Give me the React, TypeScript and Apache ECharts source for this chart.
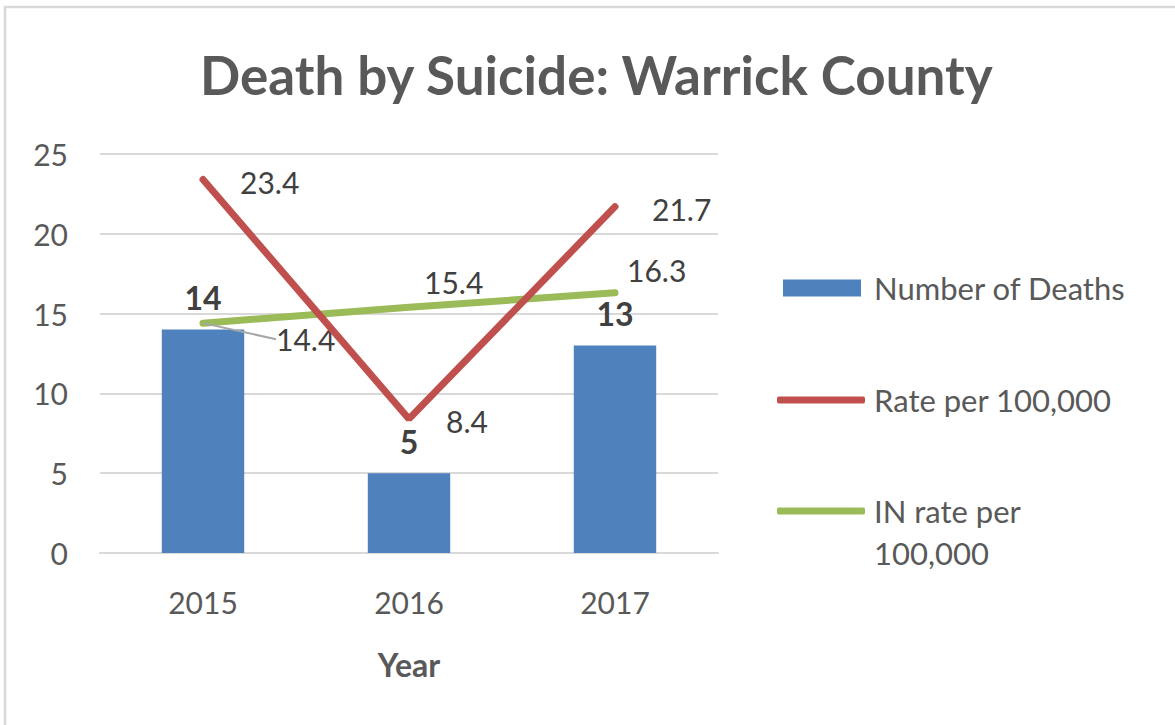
import React, { useEffect, useRef } from "react";
import * as echarts from "echarts";

const years = ["2015", "2016", "2017"];
const deaths = [14, 5, 13];
const rate = [23.4, 8.4, 21.7];
const inRate = [14.4, 15.4, 16.3];
const yTicks = [0, 5, 10, 15, 20, 25];

const FONT = "Lato";
const TXT = "#595959";
const VAL = "#404040";

export default function App() {
  const ref = useRef<HTMLDivElement>(null);
  useEffect(() => {
    const chart = echarts.init(ref.current!, null, { renderer: "svg" });
    const greenOffsets = [
      [72, 16],
      [14, -25],
      [11, -23],
    ];
    chart.setOption({
      animation: false,
      backgroundColor: "#ffffff",
      title: {
        text: "Death by Suicide: Warrick County",
        left: 200,
        top: 44,
        padding: 0,
        textStyle: { fontFamily: FONT, fontSize: 53, fontWeight: "bold", color: TXT, lineHeight: 60 },
      },
      graphic: [
        {
          type: "rect",
          shape: { x: 5, y: 7, width: 1300, height: 900 },
          style: { fill: "none", stroke: "#D9D9D9", lineWidth: 2.5 },
          silent: true,
        },
      ],
      legend: [
        {
          data: ["Number of Deaths"],
          left: 783,
          top: 270,
          padding: 0,
          icon: "rect",
          itemWidth: 78,
          itemHeight: 17,
          textStyle: { fontFamily: FONT, fontSize: 31, color: TXT, lineHeight: 36, padding: [0, 0, 0, 8] },
        },
        {
          data: ["Rate per 100,000"],
          left: 777,
          top: 382,
          padding: 0,
          icon: "roundRect",
          itemWidth: 88,
          itemHeight: 7,
          textStyle: { fontFamily: FONT, fontSize: 31, color: TXT, lineHeight: 36, padding: [0, 0, 0, 4] },
        },
        {
          data: ["IN rate per 100,000"],
          left: 777,
          top: 448,
          padding: 0,
          icon: "roundRect",
          itemWidth: 88,
          itemHeight: 7,
          formatter: () => " \nIN rate per\n100,000",
          textStyle: { fontFamily: FONT, fontSize: 31, color: TXT, lineHeight: 42, padding: [0, 0, 0, 4] },
        },
      ],
      grid: { left: 100, right: 457, top: 154, bottom: 172 },
      xAxis: {
        type: "category",
        data: years,
        axisLine: { lineStyle: { color: "#D9D9D9", width: 2 } },
        axisTick: { show: false },
        axisLabel: { fontFamily: FONT, fontSize: 30, color: TXT, margin: 34 },
        name: "Year",
        nameLocation: "middle",
        nameGap: 95,
        nameTextStyle: { fontFamily: FONT, fontSize: 32, fontWeight: "bold", color: TXT },
      },
      yAxis: {
        type: "value",
        min: yTicks[0],
        max: yTicks[yTicks.length - 1],
        interval: 5,
        axisLine: { show: false },
        axisTick: { show: false },
        axisLabel: { fontFamily: FONT, fontSize: 30, color: TXT, margin: 32 },
        splitLine: { lineStyle: { color: "#D9D9D9", width: 2 } },
      },
      series: [
        {
          name: "Number of Deaths",
          type: "bar",
          data: deaths,
          barWidth: "40%",
          itemStyle: { color: "#4F81BD" },
          label: {
            show: true,
            position: "top",
            distance: 16,
            fontFamily: FONT,
            fontSize: 32,
            fontWeight: "bold",
            color: VAL,
          },
        },
        {
          name: "IN rate per 100,000",
          type: "line",
          data: inRate.map((v, i) => ({ value: v, labelLine: { show: i === 0 } })),
          z: 3,
          symbol: "circle",
          symbolSize: 2,
          itemStyle: { color: "#9BBB59" },
          lineStyle: { color: "#9BBB59", width: 7, cap: "round" },
          label: {
            show: true,
            position: "right",
            distance: 0,
            fontFamily: FONT,
            fontSize: 30,
            color: VAL,
          },
          labelLayout: (p: any) => ({ dx: greenOffsets[p.dataIndex][0], dy: greenOffsets[p.dataIndex][1] }),
          labelLine: { show: false, lineStyle: { color: "#A6A6A6", width: 2 } },
        },
        {
          name: "Rate per 100,000",
          type: "line",
          data: rate,
          z: 4,
          symbol: "circle",
          symbolSize: 2,
          itemStyle: { color: "#C0504D" },
          lineStyle: { color: "#C0504D", width: 7, cap: "round" },
          label: {
            show: true,
            position: "right",
            distance: 36,
            offset: [0, 2],
            fontFamily: FONT,
            fontSize: 30,
            color: VAL,
          },
        },
      ],
    });
    return () => chart.dispose();
  }, []);
  return (
    <div
      ref={ref}
      style={{ position: "fixed", left: 0, top: 0, width: 1175, height: 725 }}
    />
  );
}
